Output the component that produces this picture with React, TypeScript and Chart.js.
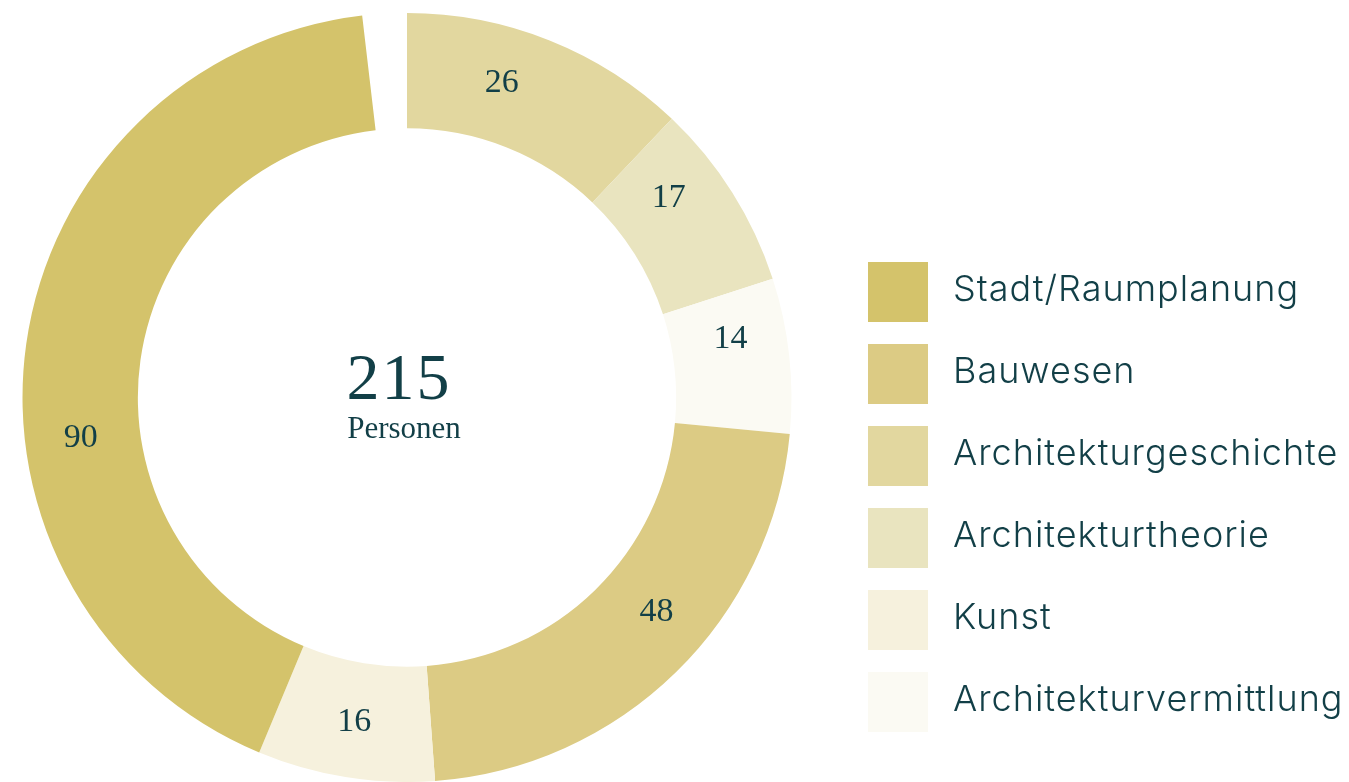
import React, { useEffect, useRef } from "react";
import { Chart, registerables } from "chart.js";

Chart.register(...registerables);

// Slices, clockwise from 12 o'clock
const sliceLabels = [
  "Architekturgeschichte",
  "Architekturtheorie",
  "Architekturvermittlung",
  "Bauwesen",
  "Kunst",
  "Stadt/Raumplanung",
];
const sliceValues = [26, 17, 14, 48, 16, 90];
const sliceColors = ["#e2d79f", "#e9e4bf", "#fbfaf3", "#dccb84", "#f6f1dd", "#d4c36b"];

// Total persons shown in the centre
const totalPersons = 215;
const centerCaption = "Personen";

// Legend order
const legendOrder = [
  "Stadt/Raumplanung",
  "Bauwesen",
  "Architekturgeschichte",
  "Architekturtheorie",
  "Kunst",
  "Architekturvermittlung",
];

// style: angular nudge (degrees) of each value label from its slice's middle
const labelAngleNudge = [-5, -5, -4, -5, 0, -15];

const TEXT = "#123f47";
const SERIF = "'Liberation Serif', 'Times New Roman', serif";

export default function App() {
  const ref = useRef<HTMLCanvasElement | null>(null);

  useEffect(() => {
    if (!ref.current) return;
    const sum = sliceValues.reduce((a, b) => a + b, 0);

    const labelPlugin = {
      id: "sliceLabels",
      afterDatasetsDraw(chart: any) {
        const ctx = chart.ctx;
        const meta = chart.getDatasetMeta(0);
        ctx.save();
        ctx.fillStyle = TEXT;
        ctx.font = `34px ${SERIF}`;
        ctx.textAlign = "center";
        ctx.textBaseline = "middle";
        meta.data.forEach((arc: any, i: number) => {
          const props = arc.getProps(["x", "y", "startAngle", "endAngle", "innerRadius", "outerRadius"]);
          const mid = (props.startAngle + props.endAngle) / 2 + (labelAngleNudge[i] * Math.PI) / 180;
          const r = (props.innerRadius + props.outerRadius) / 2 + 2;
          ctx.fillText(String(sliceValues[i]), props.x + Math.cos(mid) * r, props.y + Math.sin(mid) * r);
        });
        const a0: any = meta.data[0];
        const cx = a0.x;
        const cy = a0.y;
        ctx.font = `66px ${SERIF}`;
        ctx.textBaseline = "alphabetic";
        (ctx as any).letterSpacing = "2px";
        ctx.fillText(String(totalPersons), cx - 8, cy + 1);
        (ctx as any).letterSpacing = "0px";
        ctx.font = `31px ${SERIF}`;
        ctx.fillText(centerCaption, cx - 3, cy + 40);
        ctx.restore();
      },
    };

    const chart = new Chart(ref.current, {
      type: "doughnut",
      data: {
        labels: sliceLabels,
        datasets: [
          {
            data: sliceValues,
            backgroundColor: sliceColors,
            borderWidth: 0,
          },
        ],
      },
      options: {
        animation: false,
        responsive: true,
        maintainAspectRatio: false,
        cutout: "70%",
        rotation: 0,
        circumference: (sum / totalPersons) * 360,
        layout: { padding: { left: 22, top: 13, right: 557, bottom: 0 } },
        plugins: {
          legend: { display: false },
          tooltip: { enabled: false },
        },
      },
      plugins: [labelPlugin],
    });
    return () => chart.destroy();
  }, []);

  return (
    <div style={{ position: "absolute", left: 0, top: 0, width: 1349, height: 782, background: "#fff" }}>
      <canvas ref={ref} />
      <div
        style={{
          position: "absolute",
          left: 868,
          top: 262,
          display: "flex",
          flexDirection: "column",
        }}
      >
        {legendOrder.map((name) => {
          const idx = sliceLabels.indexOf(name);
          return (
            <div key={name} style={{ display: "flex", height: 82 }}>
              <div
                style={{
                  width: 60,
                  height: 60,
                  background: sliceColors[idx],
                  marginRight: 25,
                }}
              />
              <span
                style={{
                  fontFamily: "Inter, sans-serif",
                  fontWeight: 300,
                  fontSize: 36,
                  color: TEXT,
                  letterSpacing: "1px",
                  whiteSpace: "nowrap",
                  lineHeight: "60px",
                  marginTop: -4,
                }}
              >
                {name}
              </span>
            </div>
          );
        })}
      </div>
    </div>
  );
}
